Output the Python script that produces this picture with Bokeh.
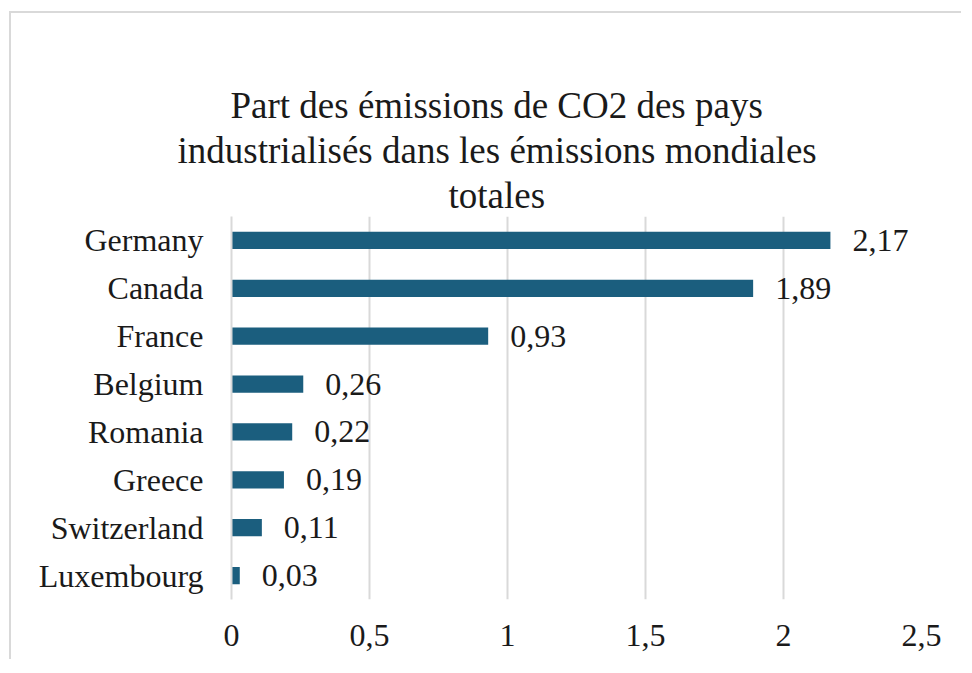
from bokeh.plotting import figure
from bokeh.models import ColumnDataSource, Title, CustomJSTickFormatter, FixedTicker, Range1d, FactorRange
from bokeh.core.properties import value
from bokeh.embed import file_html
from bokeh.resources import INLINE

countries = ["Germany", "Canada", "France", "Belgium", "Romania", "Greece", "Switzerland", "Luxembourg"]
shares = [2.17, 1.89, 0.93, 0.26, 0.22, 0.19, 0.11, 0.03]
x_ticks = [0, 0.5, 1, 1.5, 2, 2.5]
title_lines = ["Part des émissions de CO2 des pays",
               "industrialisés dans les émissions mondiales",
               "totales"]

labels = [f"{v:.2f}".replace(".", ",") for v in shares]
src = ColumnDataSource(dict(country=countries, share=shares, label=labels))

FONT = "Liberation Serif"
BAR = "#1B5E7E"
TXT = "#1a1a1a"
LBL_SIZE = "32px"

MB_TOP, MB_BOTTOM = 203, 60
FRAME_W, FRAME_H = 690, 383

p = figure(y_range=FactorRange(*reversed(countries), range_padding=0),
           x_range=Range1d(0, 2.5),
           frame_width=FRAME_W, frame_height=FRAME_H,
           min_border_left=220, min_border_right=40, min_border_top=MB_TOP, min_border_bottom=MB_BOTTOM,
           output_backend="svg", toolbar_location=None, title=None)

p.styles = {"border-left": "2px solid #d9d9d9", "border-top": "2px solid #d9d9d9",
            "margin-left": "9px", "margin-top": "11px"}

p.hbar(y="country", right="share", height=0.36, left=0, source=src,
       color=BAR, line_color=None)

p.text(x="share", y="country", text="label", source=src, x_offset=22,
       text_align="left", text_baseline="middle",
       text_font=value(FONT), text_font_size=LBL_SIZE, text_color=TXT)

# blank spacer title: reserves the gap between the plot area and the title block
p.add_layout(Title(text=" ", standoff=3, text_font=FONT, text_font_size="37px",
                   text_alpha=0), "above")

# title lines, left aligned with pixel offsets so that each is centred near x=497 of the page
title_offsets = [-1, -54, 217]
for line, off in reversed(list(zip(title_lines, title_offsets))):
    t = Title(text=line, align="left", offset=off, standoff=2,
              text_font=FONT, text_font_size="37px", text_font_style="normal",
              text_color=TXT)
    p.add_layout(t, "above")

p.xaxis.ticker = FixedTicker(ticks=x_ticks)
p.xaxis.formatter = CustomJSTickFormatter(code="return tick.toString().replace('.', ',');")
p.xaxis.axis_line_color = None
p.xaxis.major_tick_line_color = None
p.xaxis.minor_tick_line_color = None
p.xaxis.major_label_text_font = FONT
p.xaxis.major_label_text_font_size = LBL_SIZE
p.xaxis.major_label_text_color = TXT
p.xaxis.major_label_standoff = 19

p.yaxis.axis_line_color = "#d9d9d9"
p.yaxis.axis_line_width = 2
p.yaxis.major_tick_line_color = None
p.yaxis.minor_tick_line_color = None
p.yaxis.major_label_text_font = FONT
p.yaxis.major_label_text_font_size = LBL_SIZE
p.yaxis.major_label_text_color = TXT
p.yaxis.major_label_standoff = 22

p.xgrid.grid_line_color = "#d9d9d9"
p.xgrid.grid_line_width = 2
p.ygrid.grid_line_color = None
p.outline_line_color = None

open("out.html", "w").write(file_html(p, INLINE))
